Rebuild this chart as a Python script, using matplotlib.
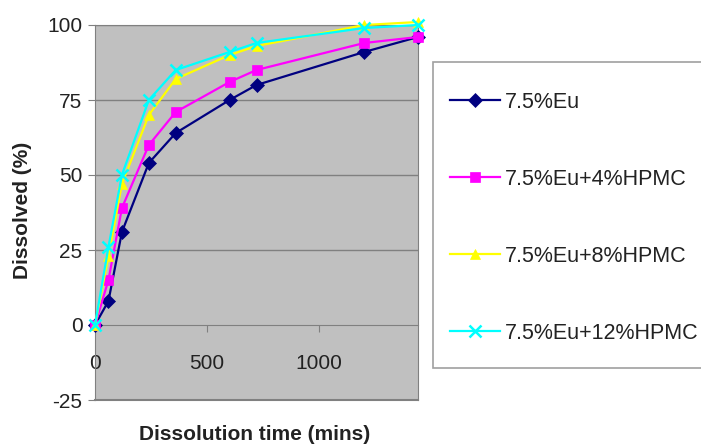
import numpy as np
import matplotlib.pyplot as plt
from matplotlib.patches import Rectangle

plt.rcParams['font.family'] = ['Liberation Sans', 'DejaVu Sans']
plt.rcParams['axes.unicode_minus'] = False

# dissolution times (mins)
time = [0, 60, 120, 240, 360, 600, 720, 1200, 1440]

eu = [0, 8, 31, 54, 64, 75, 80, 91, 96]
eu_hpmc4 = [0, 15, 39, 60, 71, 81, 85, 94, 96]
eu_hpmc8 = [0, 23, 47, 70, 82, 90, 93, 100, 101]
eu_hpmc12 = [0, 26, 50, 75, 85, 91, 94, 99, 100]

labels = ['7.5%Eu', '7.5%Eu+4%HPMC', '7.5%Eu+8%HPMC', '7.5%Eu+12%HPMC']
colors = ['#000080', '#ff00ff', '#ffff00', '#00ffff']
markers = ['D', 's', '^', 'x']

fig = plt.figure(figsize=(7.01, 4.47), dpi=100)
ax = fig.add_axes([95 / 701, 47 / 447, 323 / 701, 375 / 447])
ax.set_facecolor('#c0c0c0')

series = [eu, eu_hpmc4, eu_hpmc8, eu_hpmc12]
for s, lab, c, m in zip(series, labels, colors, markers):
    ms = 7 if m != 'x' else 8
    ax.plot(time, s, color=c, marker=m, markersize=ms, lw=1.6, label=lab,
            markeredgewidth=1.8 if m == 'x' else 0.5, clip_on=False, zorder=3)

ax.set_xlim(0, 1440)
ax.set_ylim(-25, 100)
ax.set_yticks([-25, 0, 25, 50, 75, 100])
ax.set_xticks([0, 500, 1000])
for y in [25, 50, 75, 100]:
    ax.axhline(y, color='#808080', lw=1, zorder=1)

ax.spines['bottom'].set_position(('data', 0))
for sp in ['left', 'right', 'top']:
    ax.spines[sp].set_color('#808080')
ax.spines['bottom'].set_color('#808080')
# bottom border of the plot area at -25
ax.axhline(-25, color='#808080', lw=1.5, zorder=1, clip_on=False)

ax.tick_params(axis='x', direction='out', length=5, pad=16, labelsize=15,
               color='#808080', labelcolor='#222222')
ax.tick_params(axis='y', direction='out', length=5, pad=4, labelsize=15,
               color='#808080', labelcolor='#222222')

fig.text(255 / 701, 1 - 435 / 447, 'Dissolution time (mins)', ha='center', va='center',
         fontsize=15, fontweight='bold', color='#222222')
fig.text(23 / 701, 1 - 210 / 447, 'Dissolved (%)', ha='center', va='center',
         rotation=90, fontsize=15, fontweight='bold', color='#222222')

# legend box
fig.patches.append(Rectangle((433 / 701, 1 - 368 / 447), 300 / 701, 306 / 447,
                             transform=fig.transFigure, facecolor='white',
                             edgecolor='#a0a0a0', lw=1.2, zorder=0))
leg = fig.legend(loc='upper left', bbox_to_anchor=(450 / 701, 1 - 92 / 447),
                 fontsize=15.5, frameon=False,
                 labelspacing=2.6, handlelength=2.3, handletextpad=0.25,
                 borderpad=0, borderaxespad=0)
for t in leg.get_texts():
    t.set_color('#222222')

fig.savefig('out.png', dpi=100)
